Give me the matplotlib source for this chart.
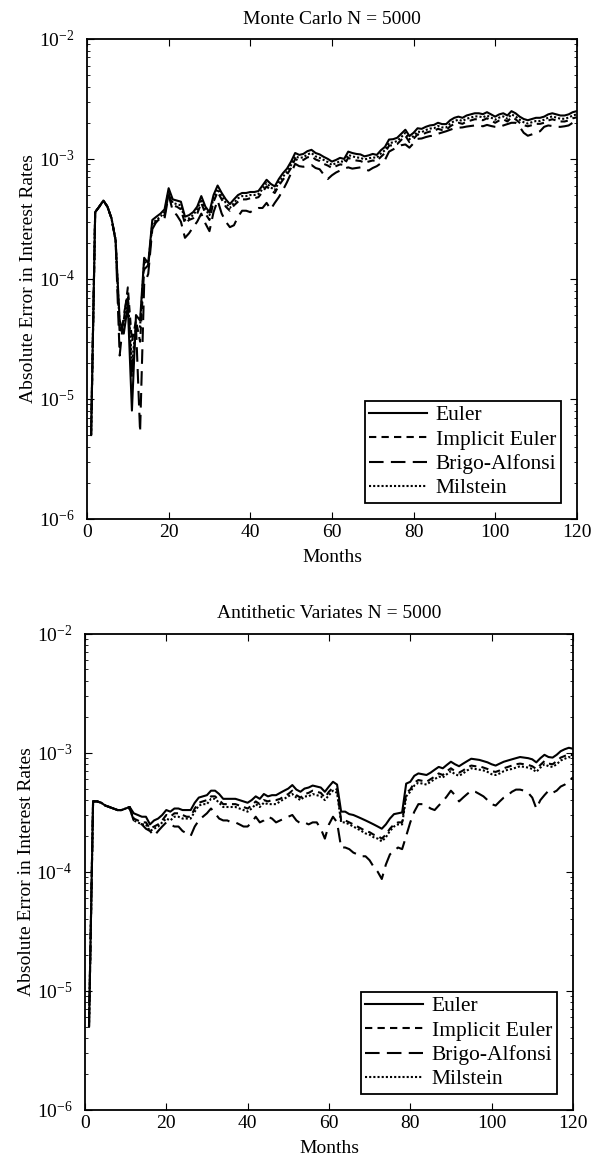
import numpy as np
import matplotlib
matplotlib.use("Agg")
from matplotlib import pyplot as plt

plt.rcParams['font.family'] = ['Liberation Serif', 'DejaVu Serif']
plt.rcParams['mathtext.fontset'] = 'stix'

months = np.arange(1, 121)

# top panel, Monte Carlo (values in units of 1e-4)
mc_euler = [0.05, 3.6, 4.0, 4.5, 4.0, 3.2, 2.1, 0.45, 0.35, 0.6,
            0.08, 0.5, 0.45, 1.5, 1.35, 3.1, 3.3, 3.5, 3.8, 5.7,
            4.6, 4.5, 4.4, 3.3, 3.4, 3.6, 4.0, 4.9, 4.0, 3.6,
            5.0, 6.0, 5.2, 4.6, 4.2, 4.6, 5.0, 5.2, 5.2, 5.3,
            5.3, 5.4, 6.0, 6.7, 6.2, 5.9, 6.8, 7.6, 8.3, 9.5,
            11.2, 10.8, 11.0, 11.6, 11.9, 11.2, 10.9, 10.4, 10.0, 9.5,
            9.8, 10.2, 10.0, 11.5, 11.2, 11.0, 10.9, 10.5, 10.7, 11.0,
            10.8, 11.8, 12.6, 14.5, 14.6, 15.0, 16.2, 17.5, 15.5, 16.5,
            18.0, 17.8, 18.5, 19.0, 19.2, 20.0, 19.5, 19.5, 21.0, 22.0,
            22.5, 22.0, 23.0, 23.5, 24.0, 24.0, 23.6, 24.5, 23.5, 22.5,
            23.5, 24.0, 23.0, 25.0, 24.0, 22.5, 21.5, 21.0, 21.5, 22.0,
            22.0, 22.5, 23.5, 24.0, 23.5, 23.0, 23.0, 23.5, 24.5, 25.0]
mc_implicit = [0.05, 3.6, 4.0, 4.5, 4.0, 3.2, 2.1, 0.35, 0.45, 0.85,
               0.3, 0.45, 0.3, 1.2, 1.3, 2.8, 3.0, 3.2, 3.4, 5.1,
               4.1, 4.0, 3.8, 2.9, 3.1, 3.2, 3.5, 4.3, 3.5, 3.1,
               4.4, 5.3, 4.6, 4.0, 3.7, 4.1, 4.4, 4.6, 4.6, 4.7,
               4.7, 4.8, 5.3, 5.9, 5.5, 5.2, 6.0, 6.7, 7.4, 8.4,
               10.0, 9.6, 9.8, 10.3, 10.5, 9.9, 9.6, 9.1, 8.8, 8.4,
               8.7, 9.0, 8.9, 10.2, 9.9, 9.7, 9.6, 9.3, 9.5, 9.7,
               9.6, 10.4, 11.2, 12.9, 13.0, 13.3, 14.4, 15.6, 13.8, 14.7,
               16.0, 15.8, 16.5, 16.9, 17.1, 17.8, 17.4, 17.4, 18.7, 19.6,
               20.0, 19.6, 20.5, 20.9, 21.4, 21.4, 21.0, 21.8, 20.9, 20.0,
               20.9, 21.4, 20.5, 22.2, 21.4, 20.0, 19.1, 18.7, 19.1, 19.6,
               19.6, 20.0, 20.9, 21.4, 20.9, 20.5, 20.5, 20.9, 21.8, 22.2]
mc_brigo = [0.05, 3.6, 4.0, 4.5, 4.0, 3.2, 2.1, 0.23, 0.5, 0.75,
            0.15, 0.4, 0.053, 0.9, 1.1, 2.6, 3.0, 3.1, 3.2, 5.0,
            3.7, 3.4, 3.0, 2.2, 2.4, 2.7, 3.0, 3.5, 2.9, 2.5,
            3.6, 4.5, 3.5, 3.0, 2.7, 2.8, 3.3, 3.7, 3.7, 3.6,
            3.8, 3.9, 3.9, 4.3, 3.8, 4.3, 4.8, 5.5, 6.4, 7.6,
            9.1, 8.7, 8.6, 8.8, 8.9, 8.4, 8.2, 7.4, 6.8, 7.3,
            7.7, 8.0, 8.3, 8.5, 8.3, 8.4, 8.5, 8.2, 8.0, 8.4,
            8.7, 9.2, 9.8, 11.5, 12.0, 12.5, 13.0, 13.2, 12.4, 13.5,
            14.7, 14.8, 15.2, 15.5, 15.6, 16.2, 16.6, 17.0, 17.5, 18.0,
            18.2, 18.3, 18.6, 18.8, 19.0, 19.0, 18.7, 19.2, 18.8, 18.5,
            18.4, 19.0, 19.5, 20.0, 20.0, 18.5, 16.5, 15.6, 16.0, 16.5,
            17.0, 18.5, 19.0, 18.8, 18.5, 18.5, 18.7, 19.0, 20.0, 20.0]
mc_milstein = [0.05, 3.6, 4.0, 4.5, 4.0, 3.2, 2.1, 0.4, 0.4, 0.7,
               0.2, 0.4, 0.4, 1.4, 1.3, 2.9, 3.1, 3.3, 3.6, 5.4,
               4.3, 4.2, 4.1, 3.1, 3.2, 3.4, 3.8, 4.6, 3.8, 3.4,
               4.7, 5.6, 4.9, 4.3, 3.9, 4.3, 4.7, 4.9, 4.9, 5.0,
               5.0, 5.1, 5.6, 6.3, 5.8, 5.5, 6.4, 7.1, 7.8, 8.9,
               10.5, 10.2, 10.3, 10.9, 11.2, 10.5, 10.2, 9.8, 9.4, 8.9,
               9.2, 9.6, 9.4, 10.8, 10.5, 10.3, 10.2, 9.9, 10.1, 10.3,
               10.2, 11.1, 11.8, 13.6, 13.7, 14.1, 15.2, 16.5, 14.6, 15.5,
               16.9, 16.7, 17.4, 17.9, 18.0, 18.8, 18.3, 18.3, 19.7, 20.7,
               21.2, 20.7, 21.6, 22.1, 22.6, 22.6, 22.2, 23.0, 22.1, 21.2,
               22.1, 22.6, 21.6, 23.5, 22.6, 21.2, 20.2, 19.7, 20.2, 20.7,
               20.7, 21.2, 22.1, 22.6, 22.1, 21.6, 21.6, 22.1, 23.0, 23.5]

# bottom panel, antithetic variates (units of 1e-4)
av_euler = [0.05, 3.9, 3.9, 3.8, 3.6, 3.5, 3.4, 3.3, 3.3, 3.4,
            3.5, 3.1, 3.0, 2.9, 2.9, 2.5, 2.7, 2.8, 3.0, 3.3,
            3.2, 3.4, 3.4, 3.3, 3.3, 3.3, 3.8, 4.2, 4.3, 4.4,
            4.8, 4.8, 4.5, 4.1, 4.1, 4.1, 4.1, 4.0, 3.9, 3.8,
            4.0, 4.3, 4.1, 4.5, 4.3, 4.4, 4.4, 4.6, 4.8, 5.0,
            5.35, 4.9, 4.7, 5.0, 5.1, 5.3, 5.2, 5.1, 4.7, 5.2,
            5.7, 5.4, 3.2, 3.2, 3.05, 3.0, 2.9, 2.8, 2.7, 2.6,
            2.5, 2.4, 2.3, 2.5, 2.8, 3.05, 3.1, 3.15, 5.5, 5.7,
            6.4, 6.7, 6.6, 6.5, 6.8, 7.2, 7.6, 7.4, 7.9, 8.4,
            8.0, 7.7, 8.1, 8.5, 8.9, 8.8, 8.7, 8.5, 8.3, 8.0,
            7.8, 8.1, 8.4, 8.6, 8.8, 9.0, 9.2, 9.1, 9.0, 8.8,
            8.3, 9.0, 9.6, 9.2, 9.1, 9.6, 10.3, 10.7, 11.0, 10.8]
av_implicit = [0.05, 3.9, 3.9, 3.8, 3.6, 3.5, 3.4, 3.3, 3.3, 3.4,
               3.5, 2.8, 2.7, 2.6, 2.6, 2.3, 2.4, 2.5, 2.7, 3.0,
               2.9, 3.1, 3.1, 3.0, 2.9, 2.9, 3.4, 3.8, 3.9, 4.0,
               4.3, 4.3, 4.0, 3.7, 3.7, 3.7, 3.7, 3.6, 3.5, 3.4,
               3.6, 3.9, 3.7, 4.0, 3.9, 4.0, 4.0, 4.1, 4.3, 4.5,
               4.8, 4.4, 4.2, 4.5, 4.6, 4.8, 4.7, 4.6, 4.2, 4.7,
               5.1, 4.9, 2.7, 2.7, 2.6, 2.5, 2.4, 2.3, 2.2, 2.15,
               2.05, 2.0, 1.9, 2.05, 2.3, 2.5, 2.6, 2.6, 4.6, 4.9,
               5.6, 5.9, 5.8, 5.7, 6.0, 6.3, 6.7, 6.5, 7.0, 7.4,
               7.0, 6.8, 7.1, 7.5, 7.8, 7.7, 7.7, 7.5, 7.3, 7.0,
               6.9, 7.1, 7.4, 7.6, 7.8, 8.0, 8.1, 8.0, 7.9, 7.7,
               7.3, 7.9, 8.5, 8.1, 8.0, 8.5, 9.1, 9.4, 9.7, 9.5]
av_brigo = [0.05, 3.9, 3.9, 3.8, 3.6, 3.5, 3.4, 3.3, 3.3, 3.4,
            3.4, 2.7, 2.6, 2.5, 2.3, 2.2, 2.0, 2.2, 2.4, 2.6,
            2.5, 2.4, 2.4, 2.2, 2.1, 2.0, 2.4, 2.7, 2.9, 3.1,
            3.4, 3.1, 2.8, 2.7, 2.7, 2.6, 2.6, 2.5, 2.4, 2.4,
            2.6, 2.9, 2.6, 2.7, 2.9, 2.8, 2.6, 2.7, 2.8, 2.9,
            3.0, 2.7, 2.55, 2.6, 2.5, 2.6, 2.6, 2.3, 1.9, 2.5,
            2.9, 2.6, 1.6, 1.6, 1.55, 1.45, 1.4, 1.35, 1.35, 1.25,
            1.1, 1.0, 0.87, 1.15, 1.4, 1.5, 1.6, 1.55, 2.0, 2.6,
            3.2, 3.7, 3.7, 3.6, 3.4, 3.3, 3.6, 3.9, 4.3, 4.8,
            4.4, 3.9, 4.2, 4.5, 4.8, 4.7, 4.5, 4.3, 4.0, 3.7,
            3.6, 3.9, 4.2, 4.4, 4.7, 4.9, 4.9, 4.8, 4.6, 4.2,
            3.4, 4.0, 4.4, 4.8, 4.6, 4.8, 5.2, 5.4, 5.8, 6.2]
av_milstein = [0.05, 3.9, 3.9, 3.8, 3.6, 3.5, 3.4, 3.3, 3.3, 3.4,
               3.5, 2.7, 2.6, 2.5, 2.5, 2.2, 2.3, 2.4, 2.6, 2.8,
               2.7, 2.9, 2.9, 2.8, 2.8, 2.8, 3.2, 3.6, 3.7, 3.7,
               4.1, 4.1, 3.8, 3.5, 3.5, 3.5, 3.5, 3.4, 3.3, 3.2,
               3.4, 3.7, 3.5, 3.8, 3.7, 3.7, 3.7, 3.9, 4.1, 4.3,
               4.5, 4.2, 4.0, 4.3, 4.3, 4.5, 4.4, 4.3, 4.0, 4.4,
               4.8, 4.6, 2.6, 2.6, 2.5, 2.4, 2.3, 2.2, 2.1, 2.05,
               1.95, 1.9, 1.8, 1.95, 2.2, 2.4, 2.5, 2.5, 4.3, 4.7,
               5.3, 5.6, 5.5, 5.4, 5.7, 6.0, 6.3, 6.2, 6.6, 7.0,
               6.6, 6.4, 6.7, 7.1, 7.4, 7.3, 7.2, 7.1, 6.9, 6.6,
               6.5, 6.7, 7.0, 7.2, 7.3, 7.5, 7.7, 7.6, 7.5, 7.3,
               6.9, 7.5, 8.0, 7.7, 7.6, 8.0, 8.6, 8.9, 9.2, 9.0]

labels = ['Euler', 'Implicit Euler', 'Brigo-Alfonsi', 'Milstein']
styles = ['-', (0, (3.5, 2.5)), (0, (7, 3.5)), (0, (1, 1))]

fig = plt.figure(figsize=(5.94, 11.68), dpi=100)
ax1 = fig.add_axes([0.1465, 0.5557, 0.8245, 0.411])
ax2 = fig.add_axes([0.143, 0.0497, 0.8215, 0.4078])

panels = [(ax1, 'Monte Carlo N = 5000', [mc_euler, mc_implicit, mc_brigo, mc_milstein]),
          (ax2, 'Antithetic Variates N = 5000', [av_euler, av_implicit, av_brigo, av_milstein])]

for ax, title, series in panels:
    for vals, lab, ls in zip(series, labels, styles):
        ax.semilogy(months, np.array(vals) * 1e-4, color='black', linestyle=ls,
                    linewidth=1.5, label=lab)
    ax.set_xlim(0, 120)
    ax.set_ylim(1e-6, 1e-2)
    ax.set_xticks([0, 20, 40, 60, 80, 100, 120])
    ax.set_title(title, fontsize=14, pad=11)
    ax.set_xlabel('Months', fontsize=14, labelpad=6)
    ax.set_ylabel('Absolute Error in Interest Rates', fontsize=14, labelpad=1)
    ax.tick_params(which='both', direction='in', top=True, right=True, labelsize=14)
    ax.tick_params(axis='y', pad=9)
    ax.tick_params(which='major', length=5)
    ax.tick_params(which='minor', length=2.5)
    for s in ax.spines.values():
        s.set_linewidth(1.3)
    leg = ax.legend(loc='lower right', fontsize=15.5, handlelength=2.7,
                    fancybox=False, framealpha=1, edgecolor='black',
                    borderpad=0.2, labelspacing=0.2, handletextpad=0.4,
                    borderaxespad=0.75)
    leg.get_frame().set_linewidth(1.3)

fig.savefig('out.png', dpi=100)
